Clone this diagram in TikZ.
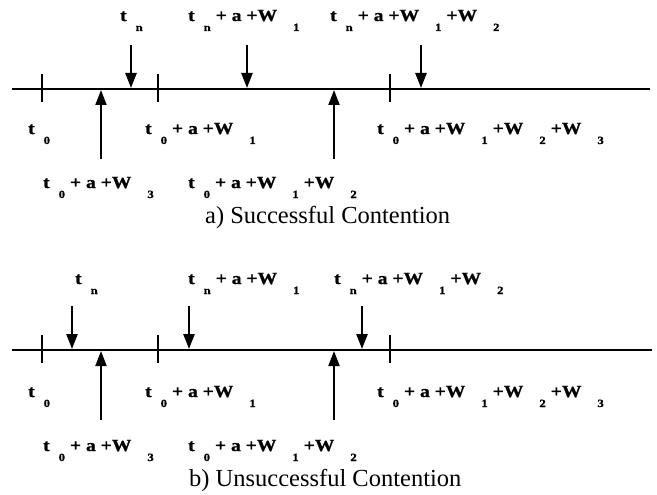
\documentclass[tikz,border=0pt]{standalone}
\usepackage{fontspec}
\setmainfont{Liberation Serif}
\newfontfamily\lblfont{Liberation Serif}[FakeStretch=1.15, FakeBold=1.2]
\usepackage{tikz}
\usetikzlibrary{arrows.meta}

% lowered, spaced-out subscript as in the timing labels
\newcommand{\sbx}[2][9pt]{\hspace{#1}\raisebox{-10pt}{\fontsize{11}{11}\selectfont #2}\hspace{5pt}}

\tikzset{
  axisline/.style={line width=2.8pt},
  tickline/.style={line width=1.6pt},
  dnarrow/.style={line width=2.4pt, -{Triangle[length=15pt,width=11pt]}},
  uparrow/.style={line width=2pt, -{Triangle[length=15pt,width=11pt]}},
  lbl/.style={font=\lblfont\fontsize{17}{17}\selectfont\bfseries, anchor=base west, inner sep=0pt},
  captiontext/.style={font=\fontsize{24.5}{24.5}\selectfont, anchor=base west, inner sep=0pt}
}

\begin{document}
\begin{tikzpicture}[x=1pt, y=-1pt]
  \useasboundingbox (0,0) rectangle (657,495);

  % a) Successful Contention
  \coordinate (a-start) at (12,89);
  \coordinate (a-end) at (650,89);
  \draw[axisline] (a-start) -- (a-end);
  \draw[tickline] (42,74) -- (42,102);
  \draw[tickline] (158,74) -- (158,102);
  \draw[tickline] (390,74) -- (390,102);

  \coordinate (a-tn-top) at (131,45);  \coordinate (a-tn) at (131,88);
  \coordinate (a-tw1-top) at (247,45); \coordinate (a-tw1) at (247,88);
  \coordinate (a-tw2-top) at (421,45); \coordinate (a-tw2) at (421,88);
  \draw[dnarrow] (a-tn-top) -- (a-tn);
  \draw[dnarrow] (a-tw1-top) -- (a-tw1);
  \draw[dnarrow] (a-tw2-top) -- (a-tw2);

  \coordinate (a-ow3-bot) at (101,159);  \coordinate (a-ow3) at (101,90);
  \coordinate (a-ow12-bot) at (334,159); \coordinate (a-ow12) at (334,90);
  \draw[uparrow] (a-ow3-bot) -- (a-ow3);
  \draw[uparrow] (a-ow12-bot) -- (a-ow12);

  \node[lbl] (a-tn-lbl) at (120,21) {t\sbx{n}};
  \node[lbl] (a-tw1-lbl) at (188,21) {t\sbx{n}+ a +W\sbx[16pt]{1}};
  \node[lbl] (a-tw2-lbl) at (330,21) {t\sbx{n}+ a +W\sbx[16pt]{1}+W\sbx[16pt]{2}};

  \node[lbl] (a-t0-lbl) at (28,134) {t\sbx{0}};
  \node[lbl] (a-ow1-lbl) at (145,134) {t\sbx{0}+ a +W\sbx[16pt]{1}};
  \node[lbl] (a-ow123-lbl) at (377,134) {t\sbx{0}+ a +W\sbx[16pt]{1}+W\sbx[16pt]{2}+W\sbx[16pt]{3}};

  \node[lbl] (a-ow3-lbl) at (43,188) {t\sbx{0}+ a +W\sbx[16pt]{3}};
  \node[lbl] (a-ow12-lbl) at (188,188) {t\sbx{0}+ a +W\sbx[16pt]{1}+W\sbx[16pt]{2}};

  \node[captiontext] (a-caption) at (205,223) {a) Successful Contention};

  % b) Unsuccessful Contention
  \begin{scope}[shift={(0,261)}]
    \coordinate (b-start) at (12,89);
    \coordinate (b-end) at (652,89);
    \draw[axisline] (b-start) -- (b-end);
    \draw[tickline] (42,74) -- (42,102);
    \draw[tickline] (158,74) -- (158,102);
    \draw[tickline] (390,74) -- (390,102);

    \coordinate (b-tn-top) at (72,45);   \coordinate (b-tn) at (72,88);
    \coordinate (b-tw1-top) at (189,45); \coordinate (b-tw1) at (189,88);
    \coordinate (b-tw2-top) at (362,45); \coordinate (b-tw2) at (362,88);
    \draw[dnarrow] (b-tn-top) -- (b-tn);
    \draw[dnarrow] (b-tw1-top) -- (b-tw1);
    \draw[dnarrow] (b-tw2-top) -- (b-tw2);

    \coordinate (b-ow3-bot) at (101,159);  \coordinate (b-ow3) at (101,90);
    \coordinate (b-ow12-bot) at (334,159); \coordinate (b-ow12) at (334,90);
    \draw[uparrow] (b-ow3-bot) -- (b-ow3);
    \draw[uparrow] (b-ow12-bot) -- (b-ow12);

    \node[lbl] (b-tn-lbl) at (75,23) {t\sbx{n}};
    \node[lbl] (b-tw1-lbl) at (188,23) {t\sbx{n}+ a +W\sbx[16pt]{1}};
    \node[lbl] (b-tw2-lbl) at (334,23) {t\sbx{n}+ a +W\sbx[16pt]{1}+W\sbx[16pt]{2}};

    \node[lbl] (b-t0-lbl) at (28,136) {t\sbx{0}};
    \node[lbl] (b-ow1-lbl) at (145,136) {t\sbx{0}+ a +W\sbx[16pt]{1}};
    \node[lbl] (b-ow123-lbl) at (377,136) {t\sbx{0}+ a +W\sbx[16pt]{1}+W\sbx[16pt]{2}+W\sbx[16pt]{3}};

    \node[lbl] (b-ow3-lbl) at (43,190) {t\sbx{0}+ a +W\sbx[16pt]{3}};
    \node[lbl] (b-ow12-lbl) at (188,190) {t\sbx{0}+ a +W\sbx[16pt]{1}+W\sbx[16pt]{2}};

    \node[captiontext] (b-caption) at (189,225) {b) Unsuccessful Contention};
  \end{scope}
\end{tikzpicture}
\end{document}
